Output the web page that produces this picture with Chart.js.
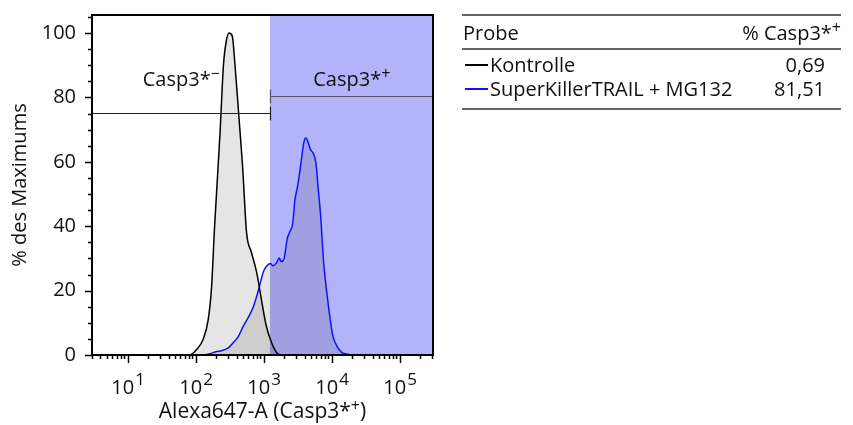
<!DOCTYPE html>
<html lang="de">
<head>
<meta charset="utf-8">
<script src="https://cdn.jsdelivr.net/npm/chart.js@4.4.1/dist/chart.umd.min.js"></script>
<style>
  html, body { margin: 0; padding: 0; background: #fff; }
  body { width: 853px; height: 425px; position: relative; overflow: hidden; font-family: "Open Sans", sans-serif; color: #111; }
  #chartBox { position: absolute; left: 0; top: 0; width: 853px; height: 425px; }
  .tbl { position: absolute; left: 462px; top: 14px; width: 379px; height: 92px; border-top: 2px solid #666; border-bottom: 2px solid #666; font-size: 20px; line-height: 24px; }
  .hdr { position: absolute; left: 0; top: 0; width: 379px; height: 32px; border-bottom: 2px solid #666; }
  .hdr .name { position: absolute; left: 1px; top: 5px; }
  .hdr .val { position: absolute; right: 0; top: 5px; }
  .row { position: absolute; left: 0; width: 379px; height: 24px; }
  .row .sw { position: absolute; left: 3px; top: 11px; width: 23px; height: 2px; }
  .row .name { position: absolute; left: 28px; top: 0; }
  .row .val { position: absolute; right: 16px; top: 0; }
  sup { font-size: 16px; vertical-align: 7px; line-height: 0; }
</style>
</head>
<body>
<div id="chartBox"><canvas id="histo" width="853" height="425"></canvas></div>
<div class="tbl" id="tbl">
  <div class="hdr"><span class="name">Probe</span><span class="val">% Casp3*<sup>+</sup></span></div>
</div>
<script>
// axis ranges
const xMin = 3;
const xMax = 310000;
const yMin = 0;
const yMax = 105.6;
const yTickValues = [0, 20, 40, 60, 80, 100];
const xDecades = [1, 2, 3, 4, 5];

// Kontrolle histogram (x as log10 of intensity, y in % of max)
const kontrolleLog = [1.80, 1.917, 2.015, 2.11, 2.186, 2.235, 2.28, 2.36, 2.41, 2.456, 2.495, 2.54, 2.58, 2.63, 2.69, 2.75, 2.82, 2.90, 2.97, 3.04, 3.12, 3.19, 3.26, 3.40];
const kontrolleY = [0, 0, 1.7, 4.8, 11, 21, 40, 69, 90, 98, 100, 99, 90, 76, 59, 38, 32, 25.5, 17, 9, 3.7, 0.8, 0, 0];

// SuperKillerTRAIL + MG132 histogram
const stkLog = [2.0, 2.11, 2.21, 2.31, 2.38, 2.48, 2.55, 2.63, 2.70, 2.77, 2.85, 2.92, 3.0, 3.04, 3.10, 3.14, 3.19, 3.23, 3.26, 3.30, 3.35, 3.39, 3.43, 3.46, 3.50, 3.55, 3.59, 3.62, 3.66, 3.69, 3.73, 3.77, 3.80, 3.84, 3.88, 3.93, 3.98, 4.02, 4.08, 4.15, 4.22, 4.32, 4.45];
const stkY = [0, 0, 0.4, 1.1, 1.3, 2.2, 3.7, 5.8, 8.9, 11.5, 15, 19.8, 26, 27.5, 28.4, 27.7, 28.6, 30.1, 29, 29.8, 36.3, 38.4, 41, 48, 52.4, 59.6, 65.8, 67.4, 65.8, 63.8, 62.7, 59.6, 52.4, 43, 29.6, 19.3, 11, 5.8, 2.7, 0.8, 0.3, 0, 0];

// gates
const gateSplit = 1240;
const gateNegY = 75.2;
const gatePosY = 80.5;
const gateLabelY = 83.5;

// table
const sampleNames = ["Kontrolle", "SuperKillerTRAIL + MG132"];
const sampleColors = ["#000000", "#1010ff"];
const casp3Pos = ["0,69", "81,51"];

const FONT = '"Open Sans", sans-serif';

function toPoints(logs, ys) {
  return logs.map((l, i) => ({ x: Math.pow(10, l), y: ys[i] }));
}

// build the table from the arrays
const tbl = document.getElementById("tbl");
sampleNames.forEach((n, i) => {
  const row = document.createElement("div");
  row.className = "row";
  row.style.top = (37 + i * 24) + "px";
  row.innerHTML = '<span class="sw" style="background:' + sampleColors[i] + '"></span>' +
    '<span class="name">' + n + '</span><span class="val">' + casp3Pos[i] + '</span>';
  tbl.appendChild(row);
});

// text with a raised small sign (Casp3*+ etc), optional trailing text
function drawSupText(ctx, base, sup, cx, y, tail, size) {
  tail = tail || "";
  size = size || 20;
  ctx.font = size + "px " + FONT;
  const w1 = ctx.measureText(base).width;
  const w3 = ctx.measureText(tail).width;
  ctx.font = "16px " + FONT;
  const w2 = ctx.measureText(sup).width;
  const x0 = cx - (w1 + w2 + w3) / 2;
  ctx.textAlign = "left";
  ctx.textBaseline = "alphabetic";
  ctx.font = size + "px " + FONT;
  ctx.fillText(base, x0, y);
  if (tail) ctx.fillText(tail, x0 + w1 + w2, y);
  ctx.font = "16px " + FONT;
  ctx.fillText(sup, x0 + w1, y - 7);
}

const flowPlugin = {
  id: "flow",
  beforeDatasetsDraw(chart) {
    const { ctx, chartArea: a, scales: { x } } = chart;
    const gx = x.getPixelForValue(gateSplit);
    ctx.save();
    ctx.fillStyle = "#b3b3fa";
    ctx.fillRect(gx, a.top, a.right - gx, a.bottom - a.top);
    ctx.restore();
  },
  afterDatasetsDraw(chart) {
    const { ctx, chartArea: a, scales: { x, y } } = chart;
    const gx = Math.round(x.getPixelForValue(gateSplit)) + 0.5;
    const yn = Math.round(y.getPixelForValue(gateNegY)) + 0.5;
    const yp = Math.round(y.getPixelForValue(gatePosY)) + 0.5;
    ctx.save();
    ctx.lineWidth = 1.2;
    // negative gate
    ctx.strokeStyle = "#222";
    ctx.beginPath();
    ctx.moveTo(a.left, yn); ctx.lineTo(gx, yn);
    ctx.moveTo(gx, yn - 7); ctx.lineTo(gx, yn + 7);
    ctx.stroke();
    // positive gate
    ctx.strokeStyle = "#555";
    ctx.beginPath();
    ctx.moveTo(gx, yp); ctx.lineTo(a.right, yp);
    ctx.moveTo(gx, yp - 7); ctx.lineTo(gx, yp + 7);
    ctx.stroke();
    ctx.fillStyle = "#111";
    const ly = y.getPixelForValue(gateLabelY);
    drawSupText(ctx, "Casp3*", "\u2212", (a.left + gx) / 2, ly);
    drawSupText(ctx, "Casp3*", "+", (gx + a.right) / 2, ly);
    ctx.restore();
  },
  afterDraw(chart) {
    const { ctx, chartArea: a, scales: { x, y } } = chart;
    ctx.save();
    ctx.strokeStyle = "#000";
    ctx.lineWidth = 1.5;
    ctx.beginPath();
    // x ticks: majors at decades, minors 2..9
    for (let d = 0; d <= 5; d++) {
      for (let k = 1; k <= 9; k++) {
        const v = k * Math.pow(10, d);
        if (v < xMin || v > xMax) continue;
        const px = Math.round(x.getPixelForValue(v)) + 0.5;
        const len = k === 1 ? 8 : 4;
        ctx.moveTo(px, a.bottom);
        ctx.lineTo(px, a.bottom + len);
      }
    }
    // y ticks every 5, majors every 20
    for (let v = 0; v <= 105; v += 5) {
      const py = Math.round(y.getPixelForValue(v)) + 0.5;
      const len = v % 20 === 0 ? 7 : 4;
      ctx.moveTo(a.left, py);
      ctx.lineTo(a.left - len, py);
    }
    ctx.stroke();
    // frame
    ctx.lineWidth = 2;
    ctx.strokeRect(a.left, a.top, a.right - a.left, a.bottom - a.top);
    // x tick labels 10^n
    ctx.fillStyle = "#111";
    xDecades.forEach((e) => {
      const px = x.getPixelForValue(Math.pow(10, e));
      ctx.font = "20px " + FONT;
      const w1 = ctx.measureText("10").width;
      ctx.font = "17px " + FONT;
      const w2 = ctx.measureText(String(e)).width;
      const x0 = px - (w1 + w2) / 2;
      ctx.textAlign = "left";
      ctx.textBaseline = "alphabetic";
      ctx.font = "20px " + FONT;
      ctx.fillText("10", x0, 394);
      ctx.font = "17px " + FONT;
      ctx.fillText(String(e), x0 + w1 + 1, 385);
    });
    // x axis title
    drawSupText(ctx, "Alexa647-A (Casp3*", "+", (a.left + a.right) / 2, 418, ")", 21);
    ctx.restore();
  }
};

const ctx = document.getElementById("histo").getContext("2d");
new Chart(ctx, {
  type: "line",
  data: {
    datasets: [
      {
        label: sampleNames[0],
        data: toPoints(kontrolleLog, kontrolleY),
        borderColor: "#000",
        borderWidth: 1.5,
        backgroundColor: "rgba(0,0,0,0.1)",
        fill: "origin",
        pointRadius: 0,
        cubicInterpolationMode: "monotone",
      },
      {
        label: sampleNames[1],
        data: toPoints(stkLog, stkY),
        borderColor: "#1010ff",
        borderWidth: 1.5,
        backgroundColor: "rgba(0,0,0,0.1)",
        fill: "origin",
        pointRadius: 0,
        cubicInterpolationMode: "monotone",
      },
    ],
  },
  options: {
    responsive: false,
    animation: false,
    layout: { padding: { left: 0, top: 15, right: 420, bottom: 0 } },
    plugins: { legend: { display: false }, tooltip: { enabled: false } },
    scales: {
      x: {
        type: "logarithmic",
        min: xMin,
        max: xMax,
        grid: { display: false, drawTicks: false },
        border: { display: false },
        ticks: { display: false },
        afterFit(scale) { scale.height = 70; scale.paddingLeft = 0; scale.paddingRight = 0; },
      },
      y: {
        min: yMin,
        max: yMax,
        grid: { display: false, drawTicks: false },
        border: { display: false },
        afterBuildTicks(scale) { scale.ticks = yTickValues.map((v) => ({ value: v })); },
        ticks: { padding: 16, color: "#111", font: { family: FONT, size: 20 } },
        title: { display: true, text: "% des Maximums", color: "#111", font: { family: FONT, size: 20 }, padding: { top: 8 } },
        afterFit(scale) { scale.width = 92; scale.paddingTop = 0; scale.paddingBottom = 0; },
      },
    },
  },
  plugins: [flowPlugin],
});
</script>
</body>
</html>
